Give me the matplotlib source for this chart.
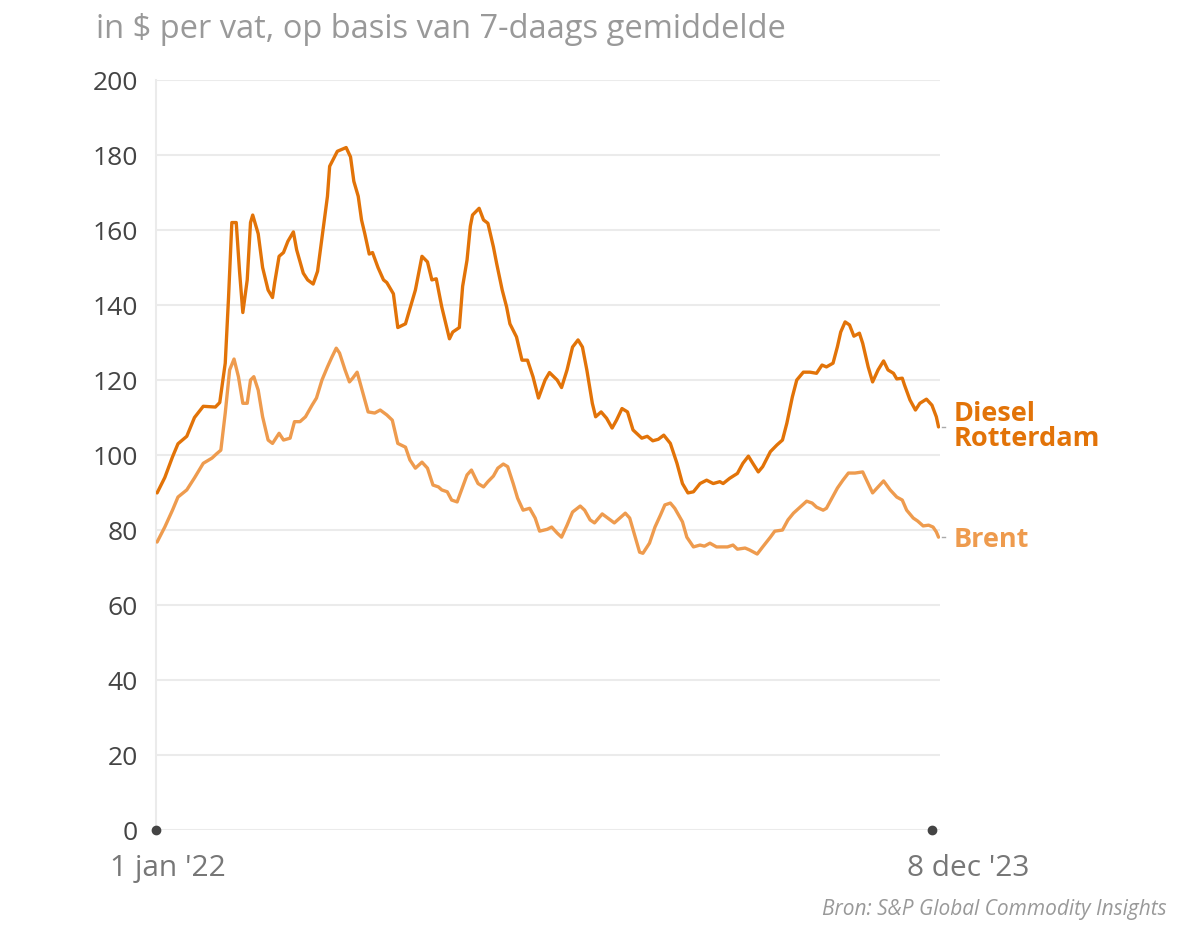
import numpy as np
import pandas as pd
import matplotlib.pyplot as plt

plt.rcParams['font.family'] = ['Open Sans', 'DejaVu Sans']

# Dagen sinds 1 jan 2022 en 7-daags gemiddelde ($ per vat)
start = pd.Timestamp("2022-01-01")

diesel_dag = [1, 8, 15, 20, 28, 35, 43, 54, 58, 63, 66, 69, 73, 76, 79, 83, 86, 88, 93, 97,
              102, 106, 108, 112, 116, 120, 125, 128, 134, 138, 143, 147, 152, 156, 158, 165,
              169, 173, 177, 180, 184, 187, 190, 194, 197, 202, 207, 210, 216, 220, 227, 233,
              236, 242, 247, 251, 255, 260, 267, 270, 276, 279, 283, 286, 288, 294, 298, 302,
              307, 310, 315, 319, 322, 328, 333, 338, 343, 348, 354, 358, 365, 369, 374, 379,
              384, 388, 392, 397, 400, 405, 410, 415, 419, 424, 429, 434, 442, 447, 452, 457,
              462, 468, 474, 479, 484, 489, 495, 501, 507, 513, 516, 522, 529, 534, 539, 543,
              548, 552, 559, 565, 570, 574, 579, 583, 589, 595, 601, 606, 610, 616, 620, 623,
              627, 631, 635, 640, 643, 648, 652, 657, 662, 666, 671, 674, 679, 681, 686, 691,
              695, 701, 706, 710, 712]
diesel = [89.9, 94, 99.5, 103, 105, 110, 113, 112.8, 114, 124.5, 142, 162, 162, 149, 138, 146.7,
          162, 164, 159, 150, 144, 142, 146, 153, 154, 157, 159.5, 154.7, 148.5, 146.7, 145.6,
          149, 160, 169, 177, 181, 181.5, 182, 179.5, 173, 169, 162.7, 159, 153.6, 154, 150,
          146.7, 146, 143, 134, 135, 141, 144, 153, 151.5, 146.7, 147, 139.5, 131, 132.8, 134,
          145, 152, 161, 164, 165.8, 162.7, 161.8, 155.5, 151, 144, 139.5, 135, 131.5, 125.3,
          125.3, 120.9, 115.2, 120, 122, 120, 118, 122.7, 128.8, 130.7, 128.8, 122.7, 113.8,
          110.2, 111.5, 109.8, 107.2, 109.3, 112.4, 111.5, 106.7, 104.5, 105, 103.8, 104.2,
          105.3, 103.1, 97.8, 92.4, 89.9, 90.2, 92.4, 93.3, 92.4, 92.9, 92.4, 93.8, 95.1, 97.8,
          99.7, 97.8, 95.5, 96.9, 100.9, 102.7, 104, 108.5, 115.5, 120, 122.1, 122.1, 121.8,
          124, 123.5, 124.5, 128.9, 132.8, 135.5, 134.7, 131.7, 132.5, 129.8, 123.5, 119.5,
          122.7, 125.1, 122.7, 121.8, 120.3, 120.5, 118.7, 114.7, 112, 113.8, 114.9, 113.3,
          110.2, 107.5]

brent_dag = [1, 8, 15, 20, 28, 35, 43, 51, 55, 59, 63, 67, 71, 75, 79, 83, 86, 89, 93, 97, 102,
             106, 112, 116, 122, 126, 131, 136, 142, 146, 151, 156, 160, 164, 167, 172, 176, 179,
             183, 187, 193, 199, 204, 210, 215, 220, 227, 231, 236, 242, 247, 252, 257, 260, 265,
             269, 274, 278, 283, 287, 290, 293, 298, 302, 307, 311, 316, 320, 325, 329, 334, 340,
             345, 349, 356, 360, 365, 369, 374, 379, 386, 390, 395, 399, 406, 411, 417, 422, 427,
             431, 436, 440, 443, 449, 454, 459, 463, 468, 472, 479, 483, 489, 495, 499, 504, 510,
             516, 520, 525, 529, 536, 540, 547, 552, 559, 563, 570, 575, 580, 586, 592, 597, 601,
             607, 610, 615, 620, 625, 630, 636, 643, 648, 652, 657, 662, 668, 674, 679, 683, 689,
             693, 698, 703, 707, 710, 712]
brent = [76.8, 80.8, 85.3, 88.8, 90.7, 93.9, 97.8, 99.2, 100.3, 101.3, 111.2, 122.7, 125.6, 120.9,
         113.8, 113.8, 120, 120.9, 117.3, 110.2, 104, 103.1, 105.8, 104, 104.5, 108.9, 108.9,
         110.2, 113.3, 115.2, 120, 123.5, 126.1, 128.5, 127.2, 122.7, 119.5, 120.5, 122.1, 117.9,
         111.5, 111.2, 112, 110.7, 109.3, 103.1, 102.1, 98.7, 96.5, 98.1, 96.5, 92, 91.5, 90.7,
         90.2, 88, 87.5, 90.7, 94.7, 96, 94.2, 92.4, 91.5, 92.9, 94.4, 96.5, 97.6, 96.9, 92.4,
         88.5, 85.3, 85.8, 83.2, 79.7, 80.2, 80.8, 79.2, 78.1, 81.3, 84.8, 86.4, 85.3, 82.7, 81.9,
         84.3, 83.2, 81.9, 83.2, 84.5, 83.2, 78.1, 74.1, 73.8, 76.5, 80.8, 84, 86.7, 87.2, 85.8,
         82.2, 78.1, 75.5, 76, 75.7, 76.5, 75.5, 75.5, 75.5, 76, 74.9, 75.2, 74.7, 73.6, 75.5,
         78.1, 79.7, 80, 82.7, 84.5, 86.1, 87.7, 87.2, 86.1, 85.3, 85.8, 88.5, 91.2, 93.3, 95.2,
         95.2, 95.5, 92.4, 89.9, 91.5, 93.1, 90.7, 88.8, 88, 85.3, 83.2, 82.4, 81.1, 81.3, 80.8,
         79.5, 78.1]

y_ticks = [0, 20, 40, 60, 80, 100, 120, 140, 160, 180, 200]
x_labels = ["1 jan '22", "8 dec '23"]
x_label_dates = [pd.Timestamp("2022-01-01"), pd.Timestamp("2023-12-08")]

kleur_diesel = '#e27308'
kleur_brent = '#ee9b4e'
grijs_grid = '#ebebeb'

d_diesel = start + pd.to_timedelta(diesel_dag, unit='D')
d_brent = start + pd.to_timedelta(brent_dag, unit='D')

fig = plt.figure(figsize=(12, 9.34), dpi=100)
ax = fig.add_axes([0.13, 0.1113, 0.6533, 0.803])

ax.plot(d_brent, brent, color=kleur_brent, lw=2.4, solid_joinstyle='round',
        solid_capstyle='round', zorder=3)
ax.plot(d_diesel, diesel, color=kleur_diesel, lw=2.4, solid_joinstyle='round',
        solid_capstyle='round', zorder=4)

ax.set_ylim(0, 200)
ax.set_xlim(start, start + pd.Timedelta(days=713.3))
ax.set_yticks(y_ticks)
ax.set_yticklabels([str(v) for v in y_ticks], fontsize=19, color='#444444')
ax.tick_params(axis='y', length=0, pad=13)
ax.set_xticks([])
ax.grid(axis='y', color=grijs_grid, lw=1.5)
ax.set_axisbelow(True)
for s in ['top', 'right', 'bottom']:
    ax.spines[s].set_visible(False)
ax.spines['left'].set_color(grijs_grid)
ax.spines['left'].set_linewidth(1.5)

# stippen op de x-as
ax.plot(x_label_dates, [0, 0], 'o', color='#444444', ms=6, clip_on=False, zorder=5)
ax.text(x_label_dates[0] + pd.Timedelta(days=11), -6.5, x_labels[0], ha='center', va='top',
        fontsize=21.5, color='#777777')
ax.text(x_label_dates[1] + pd.Timedelta(days=33), -6.5, x_labels[1], ha='center', va='top',
        fontsize=21.5, color='#777777')

# labels aan het einde van de lijnen
eind = start + pd.Timedelta(days=diesel_dag[-1])
for waarde, kleur, tekst, dy in [(diesel[-1], kleur_diesel, 'Diesel\nRotterdam', 0),
                                  (brent[-1], kleur_brent, 'Brent', -0.8)]:
    ax.plot([eind + pd.Timedelta(days=3), eind + pd.Timedelta(days=6)], [waarde, waarde],
            color='#aaaaaa', lw=1, clip_on=False)
    ax.text(eind + pd.Timedelta(days=14), waarde + dy, tekst, color=kleur, fontsize=19.5,
            fontweight='bold', va='center', ha='left', linespacing=0.95)

fig.text(96 / 1200, 1 - 30 / 934, 'in $ per vat, op basis van 7-daags gemiddelde',
         fontsize=23.5, color='#999999', va='center', ha='left')
fig.text(1167 / 1200, 1 - 909 / 934, 'Bron: S&P Global Commodity Insights',
         fontsize=15, color='#999999', style='italic', va='center', ha='right')

fig.savefig('out.png', dpi=100)
